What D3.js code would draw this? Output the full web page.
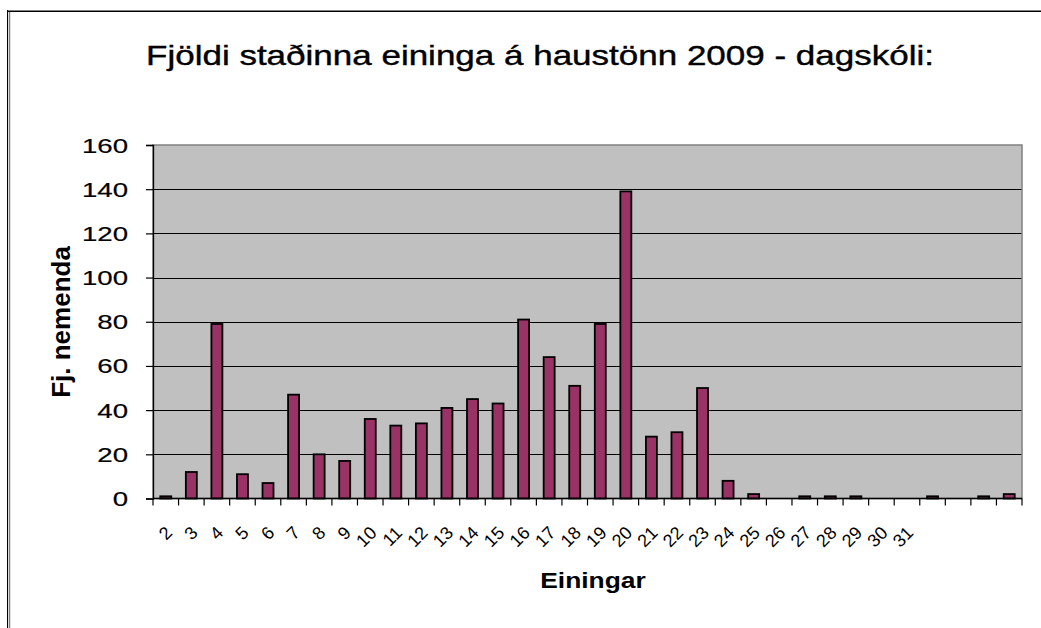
<!DOCTYPE html>
<html>
<head>
<meta charset="utf-8">
<script src="https://cdn.jsdelivr.net/npm/d3@7"></script>
<style>
  body { margin: 0; background: #fff; }
  svg { display: block; font-family: "Liberation Sans", Arial, sans-serif; }
</style>
</head>
<body>
<div id="chart"></div>
<script>
// Chart data
var categories = ["2", "3", "4", "5", "6", "7", "8", "9", "10", "11", "12", "13", "14", "15", "16", "17",
                  "18", "19", "20", "21", "22", "23", "24", "25", "26", "27", "28", "29", "30", "31", "", "", "", ""];
var values = [1, 12, 79, 11, 7, 47, 20, 17, 36, 33, 34, 41, 45, 43, 81, 64,
              51, 79, 139, 28, 30, 50, 8, 2, 0, 1, 1, 1, 0, 0, 1, 0, 1, 2];
var yTicks = [0, 20, 40, 60, 80, 100, 120, 140, 160];

var titleText = "Fjöldi staðinna eininga á haustönn 2009 - dagskóli:";
var xTitle = "Einingar";
var yTitle = "Fj. nemenda";

//Set dimensions
var width = 1041,
    height = 628,
    plot = {left: 153, right: 1022, top: 145, bottom: 498.5};

var svg = d3.select("#chart").append("svg")
        .attr("width", width)
        .attr("height", height);

//Outer frame
svg.append("line").attr("x1", 7).attr("x2", width).attr("y1", 10.5).attr("y2", 10.5)
        .attr("stroke", "#808080").attr("stroke-width", 1);
svg.append("line").attr("x1", 7).attr("x2", width).attr("y1", 11.5).attr("y2", 11.5)
        .attr("stroke", "#000").attr("stroke-width", 1);
svg.append("line").attr("x1", 7.5).attr("x2", 7.5).attr("y1", 10).attr("y2", height)
        .attr("stroke", "#000").attr("stroke-width", 1);
svg.append("line").attr("x1", 9.5).attr("x2", 9.5).attr("y1", 12).attr("y2", height)
        .attr("stroke", "#808080").attr("stroke-width", 1.5);

//Scales
var x = d3.scaleBand()
        .domain(d3.range(categories.length))
        .range([plot.left, plot.right])
        .paddingInner(0.57)
        .paddingOuter(0.285);

var xBand = d3.scaleBand()
        .domain(d3.range(categories.length))
        .range([plot.left, plot.right]);

var y = d3.scaleLinear()
        .domain([0, 160])
        .range([plot.bottom, plot.top]);

//Plot background
svg.append("rect")
        .attr("x", plot.left)
        .attr("y", plot.top)
        .attr("width", plot.right - plot.left)
        .attr("height", plot.bottom - plot.top)
        .attr("fill", "#c0c0c0");

//Grid lines
svg.append("g").selectAll("line")
        .data(yTicks.slice(1, -1))
        .enter().append("line")
        .attr("x1", plot.left)
        .attr("x2", plot.right)
        .attr("y1", function (d) { return Math.round(y(d)) + 0.5; })
        .attr("y2", function (d) { return Math.round(y(d)) + 0.5; })
        .attr("stroke", "#000")
        .attr("stroke-width", 1.2);

//Plot border
svg.append("rect")
        .attr("x", plot.left)
        .attr("y", plot.top)
        .attr("width", plot.right - plot.left)
        .attr("height", plot.bottom - plot.top)
        .attr("fill", "none")
        .attr("stroke", "#808080")
        .attr("stroke-width", 1.5);

//Bars
svg.append("g").selectAll("rect")
        .data(values.map(function (v, i) { return {i: i, v: v}; }).filter(function (d) { return d.v > 0; }))
        .enter().append("rect")
        .attr("x", function (d) { return x(d.i); })
        .attr("width", x.bandwidth())
        .attr("y", function (d) { return y(d.v); })
        .attr("height", function (d) { return plot.bottom - y(d.v); })
        .attr("fill", "#993366")
        .attr("stroke", "#000")
        .attr("stroke-width", 1.8);

//Y axis
var yAxis = svg.append("g")
        .attr("transform", "translate(" + plot.left + ",0)")
        .call(d3.axisLeft(y).tickValues(yTicks).tickSize(7).tickFormat(d3.format("d")));
yAxis.select(".domain").attr("stroke", "#000").attr("stroke-width", 1.3);
yAxis.selectAll(".tick line").attr("stroke", "#000").attr("stroke-width", 1.2);
yAxis.selectAll(".tick text")
        .attr("font-size", 20)
        .attr("fill", "#000")
        .attr("stroke", "#000")
        .attr("stroke-width", 0.2)
        .attr("x", null)
        .attr("dy", null)
        .attr("transform", "translate(-25,7) scale(1.38,1)")
        .attr("text-anchor", "end");

//X axis with ticks on the band edges
var xAxisG = svg.append("g")
        .attr("transform", "translate(0," + plot.bottom + ")");
xAxisG.append("line")
        .attr("x1", plot.left).attr("x2", plot.right)
        .attr("stroke", "#000").attr("stroke-width", 1.3);
xAxisG.selectAll(".xtick")
        .data(d3.range(categories.length + 1))
        .enter().append("line")
        .attr("class", "xtick")
        .attr("x1", function (d) { return plot.left + d * xBand.step(); })
        .attr("x2", function (d) { return plot.left + d * xBand.step(); })
        .attr("y1", 0).attr("y2", 7)
        .attr("stroke", "#000").attr("stroke-width", 1.2);

xAxisG.selectAll(".xlabel")
        .data(categories)
        .enter().append("text")
        .attr("class", "xlabel")
        .attr("transform", function (d, i) {
            return "translate(" + (xBand(i) + xBand.bandwidth() / 2 + 3) + ",31) rotate(-45)";
        })
        .attr("text-anchor", "end")
        .attr("dy", "0.35em")
        .attr("font-size", 18)
        .text(function (d) { return d; });

//Title
svg.append("text")
        .attr("transform", "translate(540,65) scale(1.25,1)")
        .attr("text-anchor", "middle")
        .attr("font-size", 28)
        .attr("stroke", "#000")
        .attr("stroke-width", 0.4)
        .text(titleText);

//Axis titles
svg.append("text")
        .attr("transform", "translate(593,588) scale(1.2,1)")
        .attr("text-anchor", "middle")
        .attr("font-size", 22)
        .attr("font-weight", "bold")
        .text(xTitle);

svg.append("text")
        .attr("transform", "translate(70,322) rotate(-90)")
        .attr("text-anchor", "middle")
        .attr("font-size", 26)
        .attr("font-weight", "bold")
        .text(yTitle);
</script>
</body>
</html>
